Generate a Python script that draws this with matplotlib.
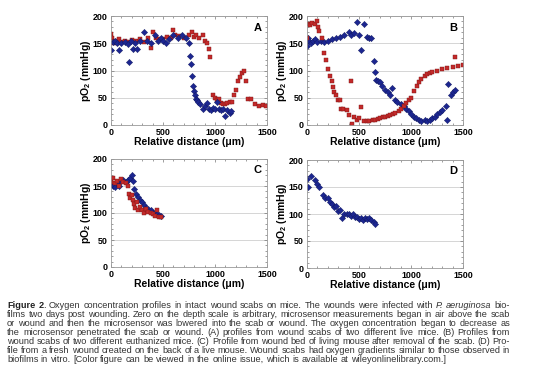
import matplotlib
matplotlib.use('Agg')
import matplotlib.pyplot as plt
from matplotlib.ticker import MultipleLocator

plt.rcParams['font.family'] = ['Liberation Sans', 'DejaVu Sans']
plt.rcParams['mathtext.default'] = 'regular'

# panel A
a_blue_x = [0, 20, 40, 60, 80, 100, 130, 160, 170, 190, 210, 230, 250, 280, 320, 350,
            380, 420, 450, 480, 500, 530, 560, 600, 640, 680, 720, 750, 760, 770, 780,
            790, 800, 810, 820, 830, 840, 860, 880, 900, 920, 940, 960, 980, 1000, 1020,
            1040, 1060, 1080, 1100, 1120, 1140, 1150]
a_blue_y = [137, 152, 155, 150, 138, 150, 152, 148, 116, 155, 140, 150, 140, 155, 170, 155,
            150, 165, 155, 160, 155, 150, 158, 165, 160, 165, 160, 150, 127, 112, 90,
            72, 62, 55, 48, 45, 42, 38, 30, 35, 40, 30, 28, 32, 30, 42,
            30, 28, 30, 17, 28, 22, 25]
a_red_x = [0, 10, 20, 40, 60, 80, 100, 130, 160, 200, 240, 280, 320, 360, 380, 400,
           430, 460, 500, 540, 580, 600, 620, 650, 700, 750, 780, 800, 820, 850, 880,
           900, 920, 940, 950, 980, 1000, 1020, 1040, 1060, 1080, 1100, 1120, 1140,
           1160, 1180, 1200, 1220, 1240, 1260, 1280, 1300, 1320, 1350, 1380, 1420,
           1460, 1490]
a_red_y = [167, 160, 150, 155, 150, 157, 153, 155, 152, 156, 155, 158, 153, 160, 142, 170,
           160, 157, 158, 162, 160, 174, 165, 163, 160, 165, 170, 162, 165, 160, 165,
           155, 150, 140, 125, 55, 50, 45, 48, 40, 38, 38, 40, 42,
           42, 55, 65, 80, 88, 95, 100, 80, 47, 47, 38, 35,
           36, 34]

# panel B
b_blue_x = [0, 10, 20, 40, 60, 80, 100, 130, 160, 200, 240, 280, 320, 360, 400, 420,
            450, 480, 500, 520, 550, 580, 600, 620, 640, 650, 660, 680, 700, 720, 750,
            780, 800, 820, 850, 870, 900, 930, 950, 980, 1000, 1030, 1050, 1080, 1100,
            1130, 1150, 1180, 1200, 1230, 1250, 1280, 1300, 1340, 1350, 1360, 1380,
            1400, 1420]
b_blue_y = [145, 160, 155, 150, 155, 157, 153, 155, 152, 155, 158, 160, 162, 165, 170, 165,
            168, 189, 165, 137, 185, 162, 160, 160, 117, 97, 83, 80, 78, 72, 65,
            60, 55, 67, 45, 42, 38, 34, 30, 25, 20, 15, 12, 10, 8,
            10, 8, 10, 12, 15, 20, 24, 28, 35, 10, 75, 55,
            60, 65]
b_red_x = [0, 10, 30, 50, 80, 100, 110, 120, 140, 160, 180, 200, 220, 240, 250, 260,
           280, 300, 320, 330, 350, 380, 400, 420, 430, 450, 480, 500, 520, 550,
           580, 600, 630, 650, 680, 700, 730, 750, 780, 800, 830, 850, 880, 900, 930,
           950, 980, 1000, 1030, 1060, 1080, 1100, 1130, 1150, 1180, 1200, 1250,
           1300, 1350, 1400, 1420, 1450, 1500]
b_red_y = [160, 185, 183, 188, 185, 190, 180, 172, 160, 133, 120, 102, 90, 80, 70, 60,
           55, 45, 46, 30, 30, 28, 18, 80, 2, 15, 10, 12, 33, 8,
           8, 8, 9, 10, 11, 12, 14, 15, 17, 18, 20, 22, 26, 30, 35,
           40, 45, 50, 62, 72, 78, 85, 90, 93, 95, 97, 100,
           103, 105, 107, 125, 108, 110]

# panel C
c_blue_x = [0, 20, 40, 60, 80, 100, 120, 140, 160, 180, 200, 210, 220, 240, 260, 280,
            300, 320, 340, 360, 380, 400, 420, 440, 460, 480]
c_blue_y = [155, 150, 148, 155, 150, 160, 162, 158, 162, 165, 170, 160, 145, 135, 130, 125,
            120, 115, 110, 108, 105, 100, 100, 98, 97, 95]
c_red_x = [0, 20, 40, 60, 80, 100, 120, 140, 160, 170, 180, 200, 210, 220, 230, 250,
           260, 280, 300, 320, 340, 360, 380, 400, 420, 440, 460, 480]
c_red_y = [158, 165, 155, 160, 150, 163, 157, 155, 150, 135, 128, 133, 125, 117, 110, 120,
           105, 112, 105, 100, 108, 102, 100, 98, 95, 105, 93, 92]

# panel D
d_blue_x = [0, 10, 40, 80, 100, 120, 150, 170, 200, 220, 240, 260, 280, 300, 320, 340,
            360, 380, 400, 420, 440, 460, 480, 500, 520, 540, 560, 580, 600, 620,
            640, 650]
d_blue_y = [165, 150, 170, 163, 155, 150, 135, 130, 130, 122, 118, 113, 115, 105, 107, 92,
            100, 100, 100, 97, 100, 95, 95, 90, 92, 88, 92, 90, 92, 88,
            85, 82]

caption = [
    "Figure 2. Oxygen concentration profiles in intact wound scabs on mice. The wounds were infected with P. aeruginosa bio-",
    "films two days post wounding. Zero on the depth scale is arbitrary, microsensor measurements began in air above the scab",
    "or wound and then the microsensor was lowered into the scab or wound. The oxygen concentration began to decrease as",
    "the microsensor penetrated the scab or wound. (A) profiles from wound scabs of two different live mice. (B) Profiles from",
    "wound scabs of two different euthanized mice. (C) Profile from wound bed of living mouse after removal of the scab. (D) Pro-",
    "file from a fresh wound created on the back of a live mouse. Wound scabs had oxygen gradients similar to those observed in",
    "biofilms in vitro. [Color figure can be viewed in the online issue, which is available at wileyonlinelibrary.com.]",
]

BLUE = '#1c2690'
RED = '#c42a2a'
CAP_SIZE = 6.6

W, H = 554, 386
fig = plt.figure(figsize=(W / 100, H / 100), dpi=100)


def panel(left, top, right, bottom, letter):
    ax = fig.add_axes([left / W, 1 - bottom / H, (right - left) / W, (bottom - top) / H])
    ax.set_xlim(0, 1500)
    ax.set_ylim(0, 200)
    ax.set_xticks([0, 500, 1000, 1500])
    ax.set_yticks([0, 50, 100, 150, 200])
    ax.xaxis.set_minor_locator(MultipleLocator(100))
    ax.yaxis.set_minor_locator(MultipleLocator(10))
    ax.tick_params(which='both', direction='in', top=True, right=True,
                   labelsize=6.4, pad=2.5, width=0.5, color='#777')
    ax.tick_params(which='major', length=2)
    ax.tick_params(which='minor', length=1.2)
    for lab in ax.get_xticklabels() + ax.get_yticklabels():
        lab.set_fontweight('bold')
    ax.grid(axis='y', which='major', color='#cfcfcf', lw=0.6)
    ax.set_axisbelow(True)
    for s in ax.spines.values():
        s.set_color('#999')
        s.set_linewidth(0.6)
    ax.set_xlabel('Relative distance (\u03bcm)', fontsize=7.5, fontweight='bold', labelpad=0)
    ax.set_ylabel('pO$_2$ (mmHg)', fontsize=7.5, fontweight='bold', labelpad=0)
    ax.text(0.965, 0.94, letter, transform=ax.transAxes, ha='right', va='top',
            fontsize=8, fontweight='bold')
    return ax


def blue(ax, x, y):
    ax.plot(x, y, ls='none', marker='D', ms=3.2, mfc=BLUE, mec='#101860', mew=0.3)


def red(ax, x, y):
    ax.plot(x, y, ls='none', marker='s', ms=3.1, mfc=RED, mec='#7a1515', mew=0.3)


axA = panel(111, 16, 267, 125, 'A')
red(axA, a_red_x, a_red_y)
blue(axA, a_blue_x, a_blue_y)

axB = panel(307, 16, 463, 125, 'B')
blue(axB, b_blue_x, b_blue_y)
red(axB, b_red_x, b_red_y)

axC = panel(111, 159, 267, 267, 'C')
blue(axC, c_blue_x, c_blue_y)
red(axC, c_red_x, c_red_y)

axD = panel(307, 160, 463, 268, 'D')
blue(axD, d_blue_x, d_blue_y)

# justified caption, word by word
renderer = fig.canvas.get_renderer()
x0, x1 = 7, 510
base0, step = 308.5, 8.9
italic_words = {'P.', 'aeruginosa'}
for i, line in enumerate(caption):
    words = line.split(' ')
    y = 1 - (base0 + i * step) / H
    pieces = []
    for j, w in enumerate(words):
        kw = dict(fontsize=CAP_SIZE, color='#333333')
        if i == 0 and j == 0:
            kw.update(fontweight='bold', color='#222222')
        if i == 0 and j == 1:
            # bold "2" followed by a regular period
            t1 = fig.text(0, y, '2', va='baseline', fontweight='bold',
                          fontsize=CAP_SIZE, color='#222222')
            t2 = fig.text(0, y, '.', va='baseline', fontsize=CAP_SIZE, color='#333333')
            pieces.append([t1, t2])
            continue
        if w in italic_words:
            kw.update(style='italic')
        pieces.append([fig.text(0, y, w, va='baseline', **kw)])
    widths = [[t.get_window_extent(renderer).width for t in p] for p in pieces]
    total = sum(sum(w) for w in widths)
    if i < len(caption) - 1:
        gap = (x1 - x0 - total) / (len(pieces) - 1)
    else:
        gap = 0.27 * CAP_SIZE * 100 / 72
    x = x0
    for p, ws in zip(pieces, widths):
        for t, w in zip(p, ws):
            t.set_x(x / W)
            x += w
        x += gap

fig.savefig('out.png', dpi=100)
